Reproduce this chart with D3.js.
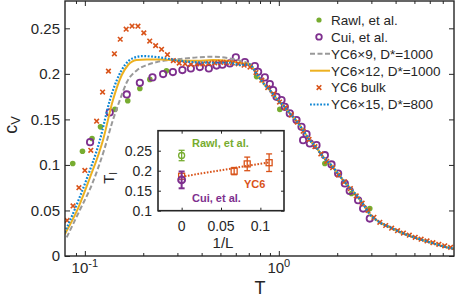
<!DOCTYPE html>
<html>
<head>
<meta charset="utf-8">
<script src="https://cdn.jsdelivr.net/npm/d3@7"></script>
<style>
body { margin: 0; background: #fff; }
svg { display: block; }
text { font-family: "Liberation Sans", Arial, sans-serif; }
</style>
</head>
<body>
<div id="viz"></div>
<script>
// main plot data, [T, cV]
let rawl = [
	[0.0866, 0.1016], [0.0972, 0.1151], [0.1089, 0.1291], [0.1204, 0.1418],
	[0.1429, 0.161], [0.1664, 0.1704], [0.1921, 0.184], [0.2163, 0.1939],
	[0.2635, 0.2034], [0.768, 0.197], [1.012, 0.161], [1.727, 0.1016],
	[2.37, 0.0686], [2.944, 0.0521]
];
let cui = [
	[0.1064, 0.125], [0.1343, 0.1577], [0.1644, 0.1774], [0.1921, 0.1902],
	[0.2232, 0.1961], [0.2532, 0.1998], [0.2843, 0.202], [0.3183, 0.2042],
	[0.3519, 0.206], [0.3915, 0.2075], [0.4357, 0.206], [0.4774, 0.2091],
	[0.5119, 0.21], [0.5592, 0.2115], [0.6003, 0.2181], [0.6683, 0.213],
	[0.7522, 0.2086], [0.7824, 0.2023], [0.8471, 0.1961], [0.8987, 0.1888],
	[0.9346, 0.1822], [0.973, 0.1748], [1.0326, 0.1712], [1.074, 0.1638],
	[1.139, 0.1566], [1.2337, 0.1492], [1.3093, 0.1418], [1.334, 0.1272],
	[1.3893, 0.1338], [1.4447, 0.1236], [1.564, 0.1217], [1.727, 0.1107],
	[1.869, 0.1005], [2.022, 0.0906], [2.189, 0.0796], [2.32, 0.0715],
	[2.563, 0.0612], [2.72, 0.0521], [2.944, 0.0411]
];
let bulk = [
	[0.0810, 0.039], [0.0869, 0.055], [0.0932, 0.075], [0.1000, 0.094], [0.1073, 0.116],
	[0.1150, 0.148], [0.1234, 0.180], [0.1323, 0.203], [0.1420, 0.222], [0.1522, 0.238],
	[0.1633, 0.249], [0.1751, 0.2525], [0.1878, 0.2523], [0.2014, 0.245], [0.2160, 0.236],
	[0.2317, 0.231], [0.2485, 0.227], [0.2665, 0.221], [0.2858, 0.2146], [0.3065, 0.2118],
	[0.3289, 0.211], [0.3526, 0.2105], [0.3783, 0.211], [0.4057, 0.211], [0.4351, 0.2115],
	[0.4667, 0.212], [0.5005, 0.2125], [0.5368, 0.2125], [0.5758, 0.212], [0.6175, 0.211],
	[0.6623, 0.2095], [0.7103, 0.2075], [0.7620, 0.2015], [0.8173, 0.193], [0.8766, 0.185],
	[0.9402, 0.178], [1.0083, 0.169], [1.0815, 0.163], [1.160, 0.155], [1.244, 0.147],
	[1.335, 0.137], [1.431, 0.128], [1.535, 0.12], [1.646, 0.112], [1.766, 0.104],
	[1.894, 0.097], [2.031, 0.089], [2.178, 0.0815], [2.337, 0.074], [2.506, 0.066],
	[2.688, 0.058], [2.883, 0.050], [3.092, 0.0425], [3.316, 0.037], [3.556, 0.0335],
	[3.815, 0.0305], [4.092, 0.0278], [4.388, 0.0252], [4.707, 0.0228], [5.048, 0.0205],
	[5.414, 0.0185], [5.807, 0.0165], [6.228, 0.0146], [6.680, 0.0128], [7.165, 0.0112],
	[7.685, 0.0095]
];
// all three DMRG curves sit on top of each other above T ~ 0.7
let highT = [
	[0.709, 0.2105], [0.752, 0.203], [0.798, 0.195], [0.847, 0.1877], [0.899, 0.1822],
	[0.954, 0.175], [1.012, 0.169], [1.074, 0.1635], [1.139, 0.1566], [1.238, 0.148],
	[1.334, 0.138], [1.445, 0.127], [1.564, 0.119], [1.686, 0.109], [1.869, 0.0995],
	[2.01, 0.091], [2.189, 0.081], [2.38, 0.0726], [2.563, 0.0645], [2.72, 0.057],
	[2.94, 0.046], [3.31, 0.037], [3.73, 0.0316], [4.36, 0.025], [5.14, 0.0195],
	[6.0, 0.0151], [7.0, 0.0107], [8.0, 0.0079]
];
let yc6x9 = [
	[0.0806, 0.0205], [0.0941, 0.0502], [0.1089, 0.0788], [0.1256, 0.1162], [0.1395, 0.1492],
	[0.1515, 0.1712], [0.1647, 0.191], [0.1862, 0.2042], [0.209, 0.2097], [0.2355, 0.213],
	[0.309, 0.2163], [0.378, 0.2181], [0.457, 0.2188], [0.559, 0.217], [0.63, 0.2145]
].concat(highT);
let yc6x12 = [
	[0.0788, 0.0239], [0.0922, 0.0524], [0.105, 0.0832], [0.124, 0.1272], [0.1396, 0.1712],
	[0.155, 0.1987], [0.167, 0.2097], [0.1846, 0.2152], [0.2079, 0.2159], [0.252, 0.2159],
	[0.309, 0.2144], [0.378, 0.2144], [0.457, 0.2152], [0.559, 0.214], [0.63, 0.2118]
].concat(highT);
let yc6x15 = [
	[0.0788, 0.026], [0.0892, 0.0524], [0.1016, 0.0832], [0.1195, 0.1272], [0.1346, 0.1712],
	[0.1462, 0.1932], [0.161, 0.2097], [0.177, 0.2173], [0.1995, 0.2195], [0.2355, 0.2184],
	[0.309, 0.2144], [0.378, 0.2126], [0.457, 0.2122], [0.559, 0.2122], [0.63, 0.2097]
].concat(highT);

let yTicks = [0, 0.05, 0.1, 0.15, 0.2, 0.25];
let xMajor = [0.1, 1];
let xMinor = [0.09, 0.2, 0.3, 0.4, 0.5, 0.6, 0.7, 0.8, 0.9, 2, 3, 4, 5, 6, 7];
let legendLabels = ["Rawl, et al.", "Cui, et al.", "YC6\u00d79, D*=1000", "YC6\u00d712, D*=1000", "YC6 bulk", "YC6\u00d715, D*=800"];

// inset data, T_l vs 1/L
let insetRawl = [{L: 0, T: 0.238, e: 0.013}];
let insetCui = [{L: 0, T: 0.177, e: 0.021}];
let insetYC6 = [
	{L: 0, T: 0.186, e: 0},
	{L: 0.0667, T: 0.199, e: 0.009},
	{L: 0.0833, T: 0.217, e: 0.017},
	{L: 0.1111, T: 0.22, e: 0.022}
];
let insetFit = [{L: 0, T: 0.185}, {L: 0.1111, T: 0.221}];
let insetXTicks = [0, 0.05, 0.1];
let insetYTicks = [0.1, 0.15, 0.2, 0.25];

const ink = "#262626";
const cGreen = "#77AC30", cPurple = "#7E2F8E", cOrange = "#D95319",
	cYellow = "#EDB120", cBlue = "#0E86D4", cGray = "#999999";

let svg = d3.select("#viz").append("svg").attr("width", 457).attr("height", 297);

let box = {l: 65, r: 454, t: 1, b: 256};
let x = d3.scaleLog().domain([0.079, 8]).range([box.l, box.r]);
let y = d3.scaleLinear().domain([0, 0.28]).range([box.b, box.t]);

svg.append("clipPath").attr("id", "clipMain")
	.append("rect").attr("x", box.l).attr("y", box.t)
	.attr("width", box.r - box.l).attr("height", box.b - box.t);

function ticks(g, axis, vals, size) {
	g.call(axis.tickValues(vals).tickSize(size).tickFormat(""))
		.call(s => s.select(".domain").remove())
		.call(s => s.selectAll("line").attr("stroke", ink).attr("stroke-width", 1));
}

let plot = svg.append("g").attr("clip-path", "url(#clipMain)");

// Rawl: filled green dots
plot.selectAll(".rawl").data(rawl).join("circle")
	.attr("cx", d => x(d[0])).attr("cy", d => y(d[1])).attr("r", 2.8)
	.attr("fill", cGreen);

// Cui: open purple circles
plot.selectAll(".cui").data(cui).join("circle")
	.attr("cx", d => x(d[0])).attr("cy", d => y(d[1])).attr("r", 3.2)
	.attr("fill", "none").attr("stroke", cPurple).attr("stroke-width", 1.8);

let line = d3.line().x(d => x(d[0])).y(d => y(d[1])).curve(d3.curveMonotoneX);

plot.append("path").attr("d", line(yc6x9))
	.attr("fill", "none").attr("stroke", cGray).attr("stroke-width", 2)
	.attr("stroke-dasharray", "5,2.5");
plot.append("path").attr("d", line(yc6x12))
	.attr("fill", "none").attr("stroke", cYellow).attr("stroke-width", 2);

let cross = "M-2.3,-2.3L2.3,2.3M-2.3,2.3L2.3,-2.3";
plot.selectAll(".bulk").data(bulk).join("path")
	.attr("transform", d => `translate(${x(d[0])},${y(d[1])})`)
	.attr("d", cross).attr("stroke", cOrange).attr("stroke-width", 1.6);

plot.append("path").attr("d", line(yc6x15))
	.attr("fill", "none").attr("stroke", cBlue).attr("stroke-width", 2.2)
	.attr("stroke-dasharray", "1.8,1.6");

// axes: inward ticks on all four sides
ticks(svg.append("g").attr("transform", `translate(0,${box.b})`), d3.axisBottom(x), xMajor, -5);
ticks(svg.append("g").attr("transform", `translate(0,${box.b})`), d3.axisBottom(x), xMinor, -3);
ticks(svg.append("g").attr("transform", `translate(0,${box.t})`), d3.axisTop(x), xMajor, -5);
ticks(svg.append("g").attr("transform", `translate(0,${box.t})`), d3.axisTop(x), xMinor, -3);
ticks(svg.append("g").attr("transform", `translate(${box.l},0)`), d3.axisLeft(y), yTicks, -5);
ticks(svg.append("g").attr("transform", `translate(${box.r},0)`), d3.axisRight(y), yTicks, -5);

svg.append("rect").attr("x", box.l).attr("y", box.t)
	.attr("width", box.r - box.l).attr("height", box.b - box.t)
	.attr("fill", "none").attr("stroke", ink).attr("stroke-width", 1.4);

svg.selectAll(".ylab").data(yTicks).join("text")
	.attr("x", box.l - 5).attr("y", d => y(d)).attr("dy", "0.36em")
	.attr("text-anchor", "end").attr("font-size", 15).attr("fill", ink)
	.text(d => String(d));

let xl = svg.selectAll(".xlab").data(xMajor).join("text")
	.attr("x", d => x(d)).attr("y", 273)
	.attr("text-anchor", "middle").attr("font-size", 15).attr("fill", ink);
xl.append("tspan").text("10");
xl.append("tspan").attr("dy", "-0.55em").attr("font-size", 11)
	.text(d => d === 1 ? "0" : "-1");

svg.append("text").attr("x", 260).attr("y", 294).attr("text-anchor", "middle")
	.attr("font-family", "Liberation Serif, Times New Roman, serif")
	.attr("font-size", 18).attr("fill", ink).text("T");

let cv = svg.append("text").attr("transform", "translate(17,125) rotate(-90)")
	.attr("text-anchor", "middle").attr("font-size", 18).attr("fill", ink);
cv.append("tspan").text("c");
cv.append("tspan").attr("font-size", 13).attr("dy", "0.25em").text("V");

// legend
let lg = svg.append("g");
legendLabels.forEach((lab, i) => {
	let ly = 20 + i * 16.9;
	if (i === 0) lg.append("circle").attr("cx", 319).attr("cy", ly).attr("r", 2.6).attr("fill", cGreen);
	if (i === 1) lg.append("circle").attr("cx", 319).attr("cy", ly).attr("r", 2.8)
		.attr("fill", "none").attr("stroke", cPurple).attr("stroke-width", 1.8);
	if (i === 2) lg.append("line").attr("x1", 310).attr("x2", 330).attr("y1", ly).attr("y2", ly)
		.attr("stroke", cGray).attr("stroke-width", 2).attr("stroke-dasharray", "5,2.5");
	if (i === 3) lg.append("line").attr("x1", 310).attr("x2", 330).attr("y1", ly).attr("y2", ly)
		.attr("stroke", cYellow).attr("stroke-width", 2);
	if (i === 4) lg.append("path").attr("transform", `translate(319,${ly})`)
		.attr("d", cross).attr("stroke", cOrange).attr("stroke-width", 1.6);
	if (i === 5) lg.append("line").attr("x1", 310).attr("x2", 330).attr("y1", ly).attr("y2", ly)
		.attr("stroke", cBlue).attr("stroke-width", 2.2).attr("stroke-dasharray", "1.8,1.6");
	lg.append("text").attr("x", 331).attr("y", ly).attr("dy", "0.36em")
		.attr("font-size", 13.5).attr("fill", ink).text(lab);
});

// inset
let ib = {l: 158, r: 284, t: 130.7, b: 210.7};
let ix = d3.scaleLinear().domain([-0.03, 0.13]).range([ib.l, ib.r]);
let iy = d3.scaleLinear().domain([0.1, 0.3]).range([ib.b, ib.t]);
let ins = svg.append("g");

ins.append("rect").attr("x", ib.l).attr("y", ib.t)
	.attr("width", ib.r - ib.l).attr("height", ib.b - ib.t).attr("fill", "#fff");

ticks(ins.append("g").attr("transform", `translate(0,${ib.b})`), d3.axisBottom(ix), insetXTicks, -3);
ticks(ins.append("g").attr("transform", `translate(0,${ib.t})`), d3.axisTop(ix), insetXTicks, -3);
ticks(ins.append("g").attr("transform", `translate(${ib.l},0)`), d3.axisLeft(iy), insetYTicks, -3);
ticks(ins.append("g").attr("transform", `translate(${ib.r},0)`), d3.axisRight(iy), insetYTicks, -3);

ins.append("path").attr("d", d3.line().x(d => ix(d.L)).y(d => iy(d.T))(insetFit))
	.attr("fill", "none").attr("stroke", cOrange).attr("stroke-width", 2)
	.attr("stroke-dasharray", "1.6,1.6");

function errBars(data, color, width) {
	let g = ins.append("g").attr("stroke", color).attr("stroke-width", width).attr("fill", "none");
	data.filter(d => d.e > 0).forEach(d => {
		let cx = ix(d.L), y0 = iy(d.T - d.e), y1 = iy(d.T + d.e);
		g.append("line").attr("x1", cx).attr("x2", cx).attr("y1", y0).attr("y2", y1);
		g.append("line").attr("x1", cx - 3).attr("x2", cx + 3).attr("y1", y0).attr("y2", y0);
		g.append("line").attr("x1", cx - 3).attr("x2", cx + 3).attr("y1", y1).attr("y2", y1);
	});
	return g;
}

errBars(insetYC6, cOrange, 1.3);
ins.selectAll(".isq").data(insetYC6).join("rect")
	.attr("x", d => ix(d.L) - 3).attr("y", d => iy(d.T) - 3).attr("width", 6).attr("height", 6)
	.attr("fill", "none").attr("stroke", cOrange).attr("stroke-width", 1.3);

errBars(insetRawl, cGreen, 1.3);
ins.selectAll(".irawl").data(insetRawl).join("circle")
	.attr("cx", d => ix(d.L)).attr("cy", d => iy(d.T)).attr("r", 3)
	.attr("fill", "none").attr("stroke", cGreen).attr("stroke-width", 1.3);

errBars(insetCui, cPurple, 2);
ins.selectAll(".icui").data(insetCui).join("circle")
	.attr("cx", d => ix(d.L)).attr("cy", d => iy(d.T)).attr("r", 3.4)
	.attr("fill", "none").attr("stroke", cPurple).attr("stroke-width", 2);

ins.append("rect").attr("x", ib.l).attr("y", ib.t)
	.attr("width", ib.r - ib.l).attr("height", ib.b - ib.t)
	.attr("fill", "none").attr("stroke", ink).attr("stroke-width", 1.6);

ins.selectAll(".iyl").data(insetYTicks).join("text")
	.attr("x", ib.l - 6).attr("y", d => iy(d)).attr("dy", "0.36em")
	.attr("text-anchor", "end").attr("font-size", 14).attr("fill", ink)
	.text(d => String(d));
ins.selectAll(".ixl").data(insetXTicks).join("text")
	.attr("x", d => ix(d)).attr("y", 231)
	.attr("text-anchor", "middle").attr("font-size", 14).attr("fill", ink)
	.text(d => String(d));

ins.append("text").attr("x", 223).attr("y", 248).attr("text-anchor", "middle")
	.attr("font-family", "Liberation Serif, Times New Roman, serif")
	.attr("font-size", 15).attr("fill", ink).text("1/L");
let tl = ins.append("text").attr("transform", "translate(114,178) rotate(-90)")
	.attr("text-anchor", "middle").attr("fill", ink)
	.attr("font-family", "Liberation Serif, Times New Roman, serif").attr("font-size", 15);
tl.append("tspan").text("T");
tl.append("tspan").attr("font-size", 10).attr("dy", "0.3em").text("l");

ins.append("text").attr("x", 192).attr("y", 146.5).attr("font-size", 11)
	.attr("font-weight", "bold").attr("fill", cGreen).text("Rawl, et al.");
ins.append("text").attr("x", 192).attr("y", 202).attr("font-size", 11)
	.attr("font-weight", "bold").attr("fill", cPurple).text("Cui, et al.");
ins.append("text").attr("x", 244).attr("y", 188).attr("font-size", 11)
	.attr("font-weight", "bold").attr("fill", cOrange).text("YC6");
</script>
</body>
</html>
